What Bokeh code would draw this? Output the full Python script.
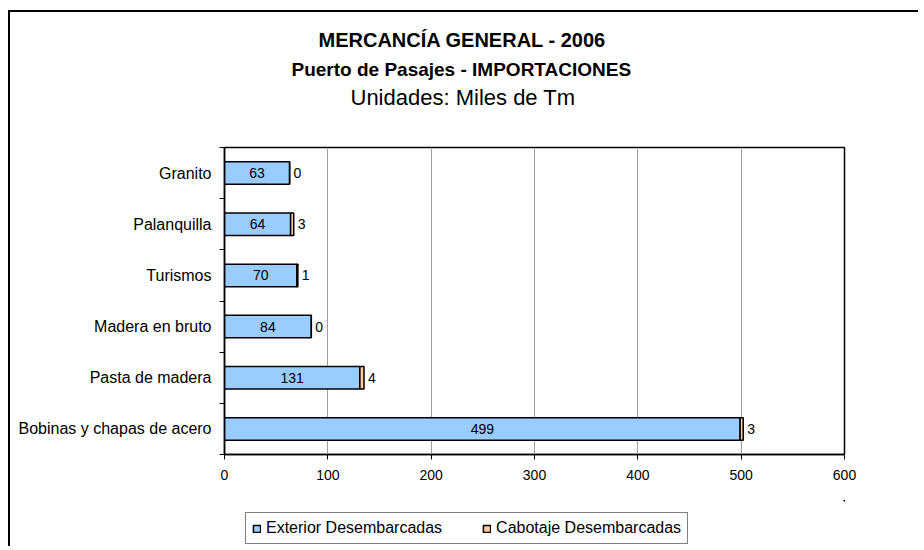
from bokeh.plotting import figure
from bokeh.models import (ColumnDataSource, FixedTicker, Legend, LegendItem,
                          Range1d, LabelSet, Title)
from bokeh.layouts import column
from bokeh.core.properties import value
from bokeh.embed import file_html
from bokeh.resources import INLINE

# ---- data (bottom to top) ----
categories = ["Bobinas y chapas de acero", "Pasta de madera", "Madera en bruto",
              "Turismos", "Palanquilla", "Granito"]
exterior = [499, 131, 84, 70, 64, 63]
cabotaje = [3, 4, 0, 1, 3, 0]
x_ticks = [0, 100, 200, 300, 400, 500, 600]
series_names = ["Exterior Desembarcadas", "Cabotaje Desembarcadas"]
series_colors = ["#99CCFF", "#FFCC99"]
title_lines = ["MERCANCÍA GENERAL - 2006",
               "Puerto de Pasajes - IMPORTACIONES",
               "Unidades: Miles de Tm"]

FONT = "Liberation Sans"
n = len(categories)
pos = list(range(n))
cab_end = [e + c for e, c in zip(exterior, cabotaje)]
src = ColumnDataSource(dict(
    y=pos,
    zero=[0] * n,
    ext=exterior,
    cab_end=cab_end,
    ext_mid=[e / 2 for e in exterior],
    ext_lbl=[str(v) for v in exterior],
    cab_lbl=[str(v) for v in cabotaje],
))

p = figure(width=908, height=488,
           x_range=Range1d(x_ticks[0], x_ticks[-1]),
           y_range=Range1d(-0.5, n - 0.5),
           output_backend="svg", toolbar_location=None,
           min_border_left=214, min_border_right=74,
           min_border_top=135, min_border_bottom=46)
p.background_fill_color = "white"
p.border_fill_color = "white"
p.outline_line_color = "black"
p.outline_line_width = 1.5

# x axis
p.xaxis.ticker = FixedTicker(ticks=x_ticks)
p.xaxis.axis_line_color = "black"
p.xaxis.axis_line_width = 1.5
p.xaxis.major_tick_line_color = "black"
p.xaxis.major_tick_out = 5
p.xaxis.major_tick_in = 0
p.xaxis.minor_tick_line_color = None
p.xaxis.major_label_standoff = 10
p.xaxis.major_label_text_font = FONT
p.xaxis.major_label_text_font_size = "14px"
p.xaxis.major_label_text_color = "black"

# y axis
p.yaxis.ticker = FixedTicker(ticks=pos, minor_ticks=[i - 0.5 for i in range(n + 1)])
p.yaxis.major_label_overrides = {i: c for i, c in zip(pos, categories)}
p.yaxis.axis_line_color = "black"
p.yaxis.axis_line_width = 1.5
p.yaxis.major_tick_line_color = None
p.yaxis.minor_tick_line_color = "black"
p.yaxis.minor_tick_out = 5
p.yaxis.minor_tick_in = 0
p.yaxis.major_label_standoff = 7
p.yaxis.major_label_text_font = FONT
p.yaxis.major_label_text_font_size = "16px"
p.yaxis.major_label_text_color = "black"

# grid
p.xgrid.ticker = FixedTicker(ticks=x_ticks)
p.xgrid.grid_line_color = "#A0A0A0"
p.xgrid.grid_line_width = 1
p.ygrid.visible = False

r1 = p.hbar(y="y", left="zero", right="ext", height=0.44, source=src,
            fill_color=series_colors[0], line_color="black", line_width=1.5)
r2 = p.hbar(y="y", left="ext", right="cab_end", height=0.44, source=src,
            fill_color=series_colors[1], line_color="black", line_width=1.5)

p.add_layout(LabelSet(x="ext_mid", y="y", text="ext_lbl", source=src,
                      text_align="center", text_baseline="middle",
                      text_font=value(FONT), text_font_size=value("14px"),
                      text_color="black"))
p.add_layout(LabelSet(x="cab_end", y="y", text="cab_lbl", source=src,
                      x_offset=4, text_align="left", text_baseline="middle",
                      text_font=value(FONT), text_font_size=value("14px"),
                      text_color="black"))

# titles: added innermost first (spacer, line 3, line 2, line 1)
p.add_layout(Title(text=" ", text_font_size="10px", standoff=23), "above")
title_style = ["bold", "bold", "normal"]
title_size = ["20px", "19px", "22px"]
title_offset = [94, 67, 126]
title_standoff = [10, 2, 4]
for t, st, fs, off, so in reversed(list(zip(title_lines, title_style, title_size,
                                            title_offset, title_standoff))):
    p.add_layout(Title(text=t, align="left", offset=off, text_font=FONT,
                       text_font_size=fs, text_font_style=st, standoff=so,
                       text_color="black"), "above")

# legend strip (separate figure so the legend is not clipped by the plot frame);
# its bar renderers use the same data but lie entirely outside this strip's ranges
q = figure(width=908, height=46, x_range=Range1d(-20, -19), y_range=Range1d(-20, -19),
           output_backend="svg", toolbar_location=None,
           min_border_left=0, min_border_right=0,
           min_border_top=0, min_border_bottom=0)
q.axis.visible = False
q.grid.visible = False
q.outline_line_color = None
q.background_fill_color = "white"
q.border_fill_color = "white"
l1 = q.hbar(y="y", left="zero", right="ext", height=0.44, source=src,
            fill_color=series_colors[0], line_color="black", line_width=1.5)
l2 = q.hbar(y="y", left="ext", right="cab_end", height=0.44, source=src,
            fill_color=series_colors[1], line_color="black", line_width=1.5)
legend = Legend(items=[LegendItem(label=series_names[0], renderers=[l1]),
                       LegendItem(label=series_names[1], renderers=[l2])],
                orientation="horizontal", location=(21, 2),
                border_line_color="black", border_line_width=1,
                background_fill_color="white", background_fill_alpha=1,
                label_text_font=FONT, label_text_font_size="16px",
                label_text_color="black",
                glyph_width=9, glyph_height=9, label_height=16,
                padding=6, spacing=40, margin=0, label_standoff=5)
q.add_layout(legend, "center")

layout = column(p, q, spacing=0)
layout.styles = {"border-left": "2px solid black", "border-top": "2px solid black",
                 "margin-left": "8px", "margin-top": "10px"}

open("out.html", "w").write(file_html(layout, INLINE))
